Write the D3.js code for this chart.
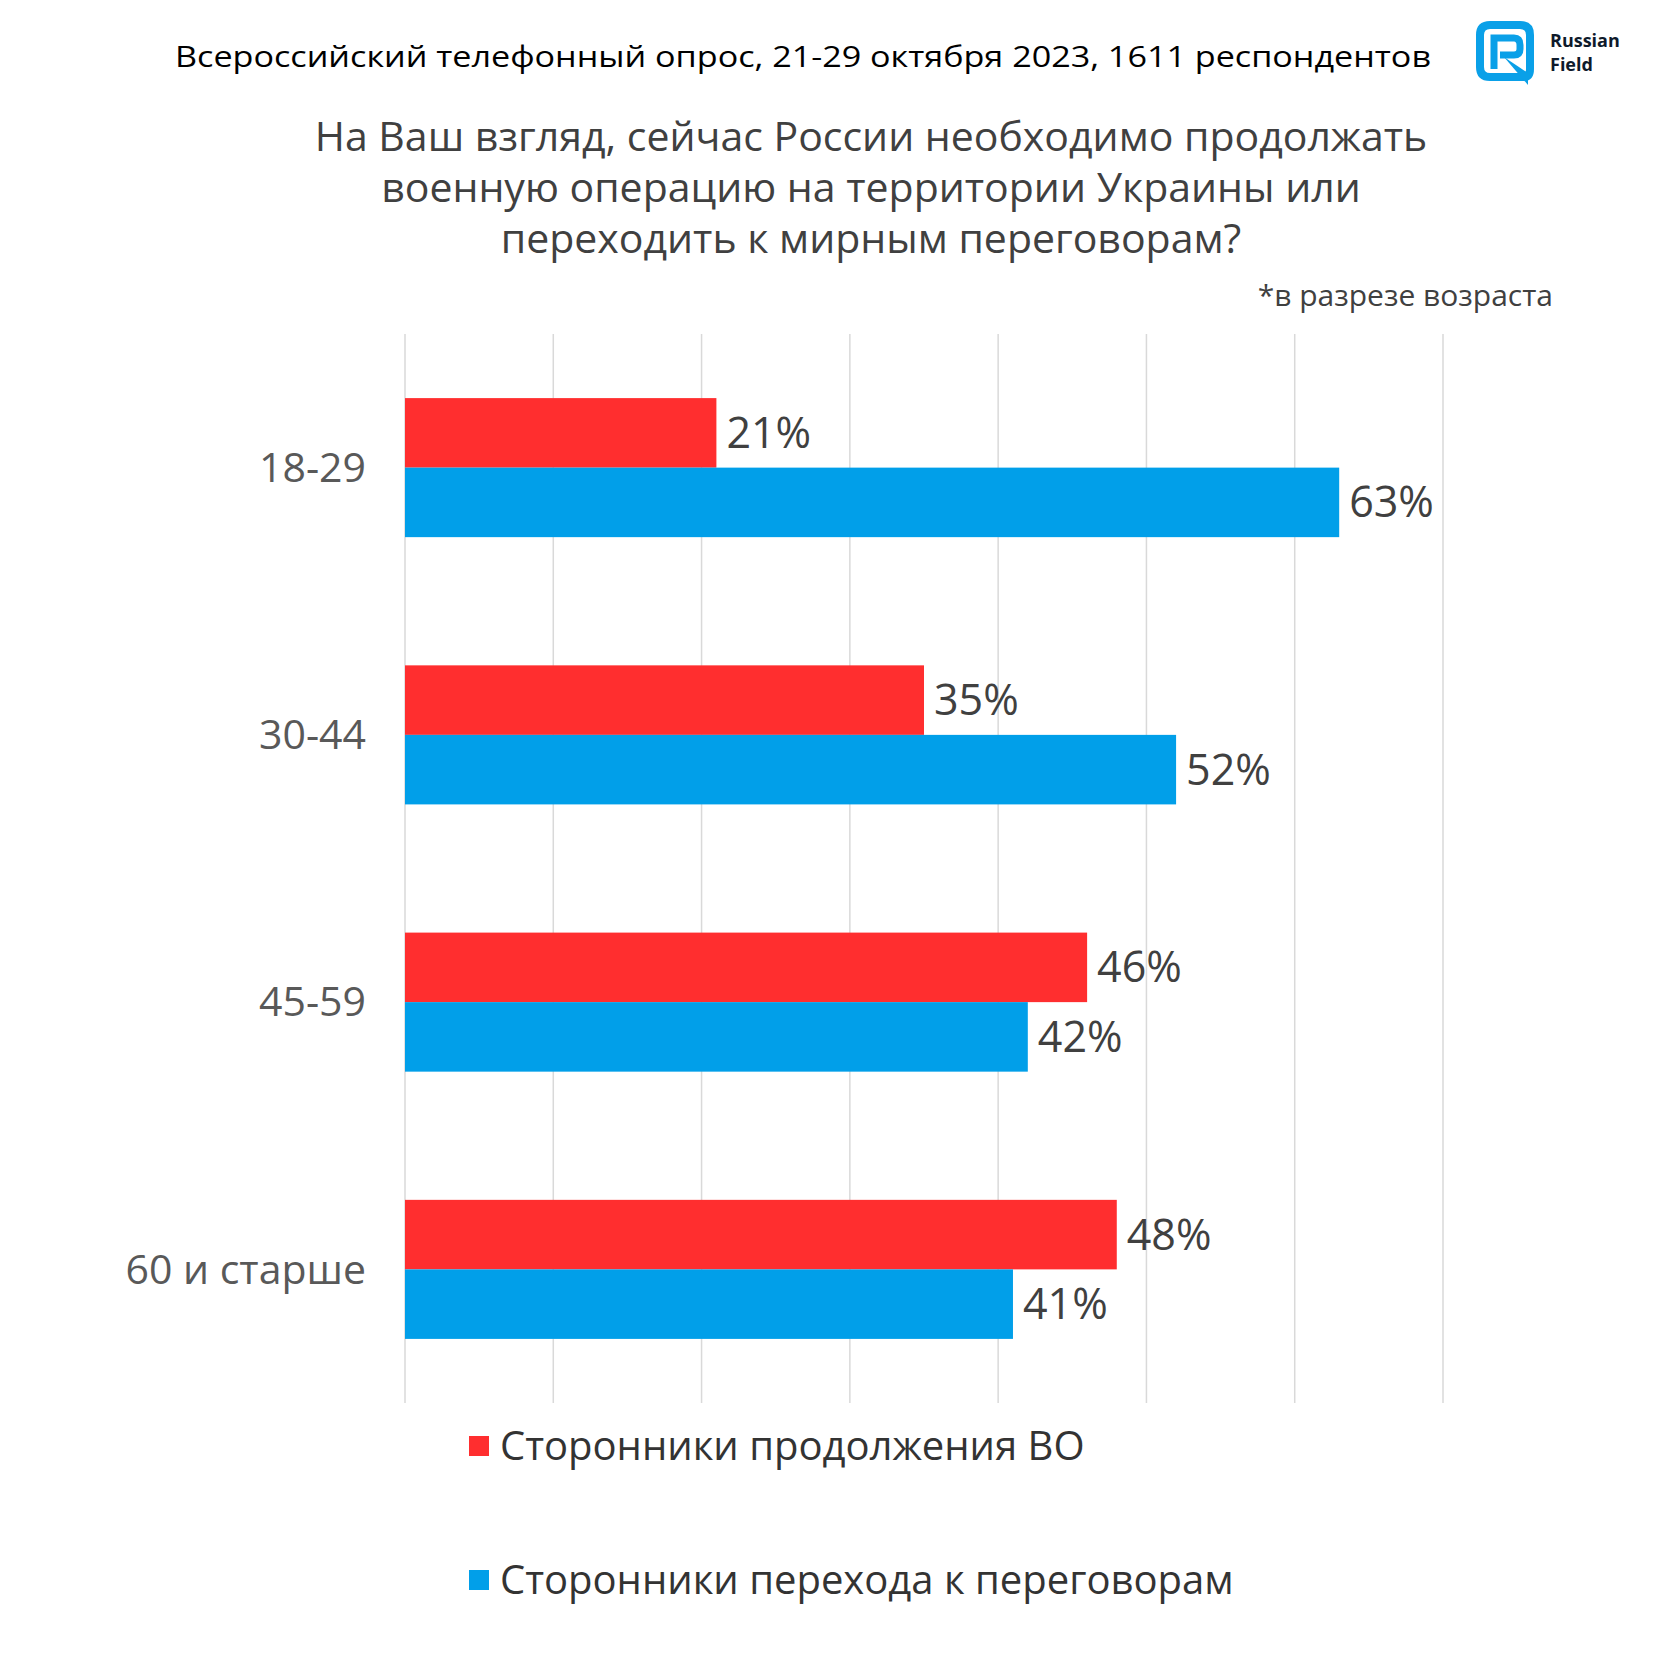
<!DOCTYPE html>
<html><head><meta charset="utf-8">
<script src="https://cdn.jsdelivr.net/npm/d3@7/dist/d3.min.js"></script>
<style>body{margin:0;background:#fff}svg{display:block}</style>
</head><body>
<script>
const categories = ["18-29", "30-44", "45-59", "60 и старше"];
const seriesNames = ["Сторонники продолжения ВО", "Сторонники перехода к переговорам"];
const continueVals = [21, 35, 46, 48];
const negotiateVals = [63, 52, 42, 41];
const xTicks = [0, 10, 20, 30, 40, 50, 60, 70];
const headerText = "Всероссийский телефонный опрос, 21-29 октября 2023, 1611 респондентов";
const titleLines = ["На Ваш взгляд, сейчас России необходимо продолжать", "военную операцию на территории Украины или", "переходить к мирным переговорам?"];
const noteText = "*в разрезе возраста";
const colors = ["#FF2E2F", "#019FE9"];

const W = 1680, H = 1680;
const svg = d3.select("body").append("svg").attr("width", W).attr("height", H);
const font = "'Open Sans', 'Noto Sans', sans-serif";

const x = d3.scaleLinear().domain([0, 70]).range([405, 1443]);
const y0 = d3.scaleBand().domain(categories).range([334, 1403]).padding(0);
const y1 = d3.scaleBand().domain(seriesNames).range([0, y0.step()]).paddingInner(0).paddingOuter(0.922);

// gridlines
svg.append("g").selectAll("line").data(xTicks).join("line")
  .attr("x1", d => x(d)).attr("x2", d => x(d))
  .attr("y1", 334).attr("y2", 1403)
  .attr("stroke", "#D9D9D9").attr("stroke-width", 1.5);

// header
svg.append("text").attr("x", 175).attr("y", 67).text(headerText)
  .attr("font-family", font).attr("font-size", 30).attr("font-weight", 500).attr("fill", "#000")
  .attr("textLength", 1256).attr("lengthAdjust", "spacingAndGlyphs");

// logo
const logo = svg.append("g").attr("transform", "translate(1476,21)");
logo.append("path")
  .attr("d", "M14,4 H44 Q54,4 54,14 V48 Q54,56 48,56 H14 Q4,56 4,46 V14 Q4,4 14,4 Z")
  .attr("fill", "none").attr("stroke", "#0AA0E8").attr("stroke-width", 8);
logo.append("path")
  .attr("d", "M18,48 V17 H38 Q44,17 44,24 V28 Q44,34 38,34 H24")
  .attr("fill", "none").attr("stroke", "#0AA0E8").attr("stroke-width", 7);
logo.append("path")
  .attr("d", "M28,36 L52,64 L52,52 Z")
  .attr("fill", "#0AA0E8");
logo.append("text").attr("x", 74).attr("y", 26).text("Russian")
  .attr("font-family", font).attr("font-weight", 700).attr("font-size", 18).attr("fill", "#0E1A2B");
logo.append("text").attr("x", 74).attr("y", 50).text("Field")
  .attr("font-family", font).attr("font-weight", 700).attr("font-size", 18).attr("fill", "#0E1A2B");

// title
svg.append("g").selectAll("text").data(titleLines).join("text")
  .attr("x", 871).attr("y", (d, i) => 151 + i * 51)
  .attr("text-anchor", "middle").text(d => d)
  .attr("font-family", font).attr("font-size", 41).attr("fill", "#404040");

svg.append("text").attr("x", 1553).attr("y", 306).attr("text-anchor", "end").text(noteText)
  .attr("font-family", font).attr("font-size", 30).attr("fill", "#404040");

// bars
const data = categories.map((c, i) => ({cat: c, vals: [continueVals[i], negotiateVals[i]]}));
const groups = svg.append("g").selectAll("g").data(data).join("g")
  .attr("transform", d => `translate(0,${y0(d.cat)})`);
groups.selectAll("rect").data(d => d.vals.map((v, j) => ({v, s: seriesNames[j], j}))).join("rect")
  .attr("x", x(0)).attr("y", d => y1(d.s)).attr("width", d => x(d.v) - x(0))
  .attr("height", y1.bandwidth()).attr("fill", d => colors[d.j]);
groups.selectAll("text.val").data(d => d.vals.map((v, j) => ({v, s: seriesNames[j], j}))).join("text")
  .attr("class", "val")
  .attr("x", d => x(d.v) + 10).attr("y", d => y1(d.s) + y1.bandwidth() / 2)
  .attr("dy", "0.35em").text(d => d.v + "%")
  .attr("font-family", font).attr("font-size", 43).attr("fill", "#404040");

// category labels
svg.append("g").selectAll("text").data(categories).join("text")
  .attr("x", 366).attr("y", d => y0(d) + y0.step() / 2).attr("dy", "0.35em")
  .attr("text-anchor", "end").text(d => d)
  .attr("font-family", font).attr("font-size", 41).attr("fill", "#595959");

// legend
const leg = svg.append("g").selectAll("g").data(seriesNames).join("g")
  .attr("transform", (d, i) => `translate(469,${1446 + i * 134})`);
leg.append("rect").attr("x", 0).attr("y", -10).attr("width", 20).attr("height", 20)
  .attr("fill", (d, i) => colors[i]);
leg.append("text").attr("x", 31).attr("y", 0).attr("dy", "0.35em").text(d => d)
  .attr("font-family", font).attr("font-size", 40).attr("fill", "#333");
</script>
</body></html>
